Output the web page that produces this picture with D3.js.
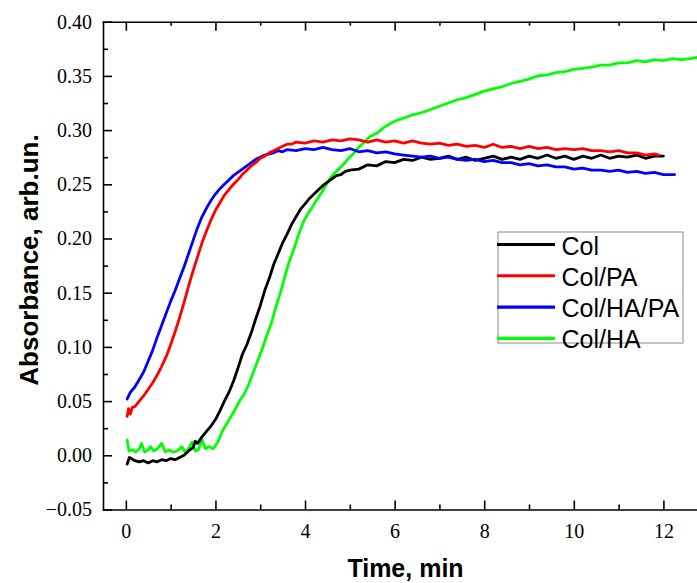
<!DOCTYPE html>
<html>
<head>
<meta charset="utf-8">
<script src="https://cdn.jsdelivr.net/npm/d3@7"></script>
<style>
  html, body { margin: 0; padding: 0; background: #fff; }
  svg { display: block; }
  .tick text { font-family: "Liberation Serif", "Times New Roman", serif; font-size: 20px; fill: #000; }
  .axis path, .axis line { stroke: #000; stroke-width: 1.6px; }
  .title { font-family: "Liberation Sans", Arial, sans-serif; font-weight: bold; font-size: 25px; fill: #000; }
  .legend text { font-family: "Liberation Sans", Arial, sans-serif; font-size: 25px; fill: #000; }
  .series { fill: none; stroke-width: 2.8px; stroke-linejoin: round; stroke-linecap: round; }
</style>
</head>
<body>
<div id="chart"></div>
<script>
// Absorbance vs time
const seriesNames = ["Col", "Col/PA", "Col/HA/PA", "Col/HA"];
const seriesColors = ["#000000", "#ff0000", "#0000ff", "#00ff00"];

const colTime = [0.03, 0.08, 0.12, 0.2, 0.3, 0.4, 0.5, 0.6, 0.7, 0.8, 0.9, 1.0, 1.1, 1.2, 1.3, 1.4, 1.5, 1.55, 1.6, 1.7, 1.8, 1.9,
  2.0, 2.1, 2.2, 2.3, 2.4, 2.5, 2.6, 2.7, 2.8, 2.9, 3.0, 3.1, 3.2, 3.3, 3.4, 3.5, 3.6, 3.7, 3.8, 3.9, 4.0, 4.1, 4.2, 4.3, 4.4,
  4.5, 4.6, 4.7, 4.8, 4.9, 5.0, 5.2, 5.4, 5.6, 5.8, 6.0, 6.2, 6.4, 6.6, 6.8, 7.0, 7.2, 7.4, 7.6, 7.8, 8.0, 8.2, 8.4, 8.6, 8.8,
  9.0, 9.2, 9.4, 9.6, 9.8, 10.0, 10.2, 10.4, 10.6, 10.8, 11.0, 11.2, 11.4, 11.6, 11.8, 12.0];
const colAbs = [-0.008, -0.002, -0.003, -0.005, -0.006, -0.005, -0.007, -0.005, -0.006, -0.004, -0.005, -0.003, -0.004, -0.002,
  0.000, 0.004, 0.007, 0.013, 0.011, 0.017, 0.022, 0.027, 0.033, 0.041, 0.050, 0.058, 0.068, 0.080, 0.093, 0.102, 0.113, 0.126,
  0.138, 0.152, 0.163, 0.176, 0.186, 0.196, 0.204, 0.213, 0.220, 0.227, 0.232, 0.237, 0.241, 0.245, 0.249, 0.252, 0.255, 0.258,
  0.259, 0.262, 0.263, 0.264, 0.268, 0.267, 0.271, 0.270, 0.273, 0.272, 0.275, 0.273, 0.274, 0.276, 0.273, 0.275, 0.272, 0.274,
  0.276, 0.273, 0.275, 0.273, 0.276, 0.274, 0.277, 0.274, 0.276, 0.273, 0.276, 0.274, 0.277, 0.274, 0.276, 0.275, 0.277, 0.274,
  0.276, 0.276];

const colPaTime = [0.03, 0.06, 0.1, 0.14, 0.2, 0.3, 0.4, 0.5, 0.6, 0.7, 0.8, 0.9, 1.0, 1.1, 1.2, 1.3, 1.4, 1.5, 1.6, 1.7, 1.8, 1.9,
  2.0, 2.1, 2.2, 2.3, 2.4, 2.5, 2.6, 2.7, 2.8, 2.9, 3.0, 3.1, 3.2, 3.3, 3.4, 3.5, 3.6, 3.7, 3.8, 4.0, 4.2, 4.4, 4.6, 4.8, 5.0,
  5.2, 5.4, 5.6, 5.8, 6.0, 6.2, 6.4, 6.6, 6.8, 7.0, 7.2, 7.4, 7.6, 7.8, 8.0, 8.2, 8.4, 8.6, 8.8, 9.0, 9.2, 9.4, 9.6, 9.8, 10.0,
  10.2, 10.4, 10.6, 10.8, 11.0, 11.2, 11.4, 11.6, 11.8, 11.9];
const colPaAbs = [0.036, 0.043, 0.038, 0.044, 0.045, 0.050, 0.055, 0.061, 0.067, 0.074, 0.082, 0.091, 0.102, 0.114, 0.127, 0.141,
  0.156, 0.170, 0.183, 0.196, 0.207, 0.217, 0.226, 0.233, 0.240, 0.245, 0.250, 0.254, 0.259, 0.263, 0.267, 0.270, 0.274, 0.276,
  0.279, 0.281, 0.283, 0.285, 0.287, 0.287, 0.289, 0.288, 0.290, 0.289, 0.291, 0.290, 0.292, 0.291, 0.289, 0.291, 0.289, 0.290,
  0.288, 0.290, 0.288, 0.287, 0.288, 0.286, 0.287, 0.285, 0.286, 0.284, 0.287, 0.284, 0.285, 0.283, 0.285, 0.283, 0.284, 0.282,
  0.283, 0.282, 0.283, 0.281, 0.281, 0.280, 0.281, 0.279, 0.279, 0.277, 0.278, 0.277];

const colHaPaTime = [0.03, 0.1, 0.2, 0.3, 0.4, 0.5, 0.6, 0.7, 0.8, 0.9, 1.0, 1.1, 1.2, 1.3, 1.4, 1.5, 1.6, 1.7, 1.8, 1.9, 2.0,
  2.1, 2.2, 2.3, 2.4, 2.5, 2.6, 2.7, 2.8, 2.9, 3.0, 3.1, 3.2, 3.3, 3.4, 3.5, 3.6, 3.8, 4.0, 4.2, 4.4, 4.6, 4.8, 5.0, 5.2, 5.4,
  5.6, 5.8, 6.0, 6.2, 6.4, 6.6, 6.8, 7.0, 7.2, 7.4, 7.6, 7.8, 8.0, 8.2, 8.4, 8.6, 8.8, 9.0, 9.2, 9.4, 9.6, 9.8, 10.0, 10.2,
  10.4, 10.6, 10.8, 11.0, 11.2, 11.4, 11.6, 11.8, 12.0, 12.25];
const colHaPaAbs = [0.052, 0.058, 0.063, 0.070, 0.077, 0.087, 0.097, 0.109, 0.120, 0.131, 0.142, 0.152, 0.163, 0.174, 0.186,
  0.198, 0.210, 0.220, 0.228, 0.235, 0.241, 0.246, 0.250, 0.254, 0.258, 0.261, 0.264, 0.267, 0.270, 0.273, 0.275, 0.277, 0.278,
  0.279, 0.281, 0.280, 0.282, 0.281, 0.283, 0.282, 0.284, 0.282, 0.281, 0.283, 0.280, 0.281, 0.279, 0.280, 0.278, 0.277, 0.276,
  0.275, 0.276, 0.274, 0.275, 0.273, 0.272, 0.273, 0.271, 0.272, 0.270, 0.270, 0.268, 0.269, 0.267, 0.268, 0.266, 0.266, 0.264,
  0.265, 0.263, 0.263, 0.262, 0.263, 0.261, 0.262, 0.260, 0.261, 0.259, 0.259];

const colHaTime = [0.03, 0.07, 0.15, 0.22, 0.3, 0.35, 0.42, 0.5, 0.55, 0.62, 0.7, 0.8, 0.88, 0.95, 1.05, 1.15, 1.25, 1.32, 1.4,
  1.48, 1.55, 1.62, 1.7, 1.78, 1.85, 1.95, 2.05, 2.15, 2.25, 2.35, 2.45, 2.55, 2.65, 2.75, 2.85, 2.95, 3.05, 3.15, 3.25, 3.35,
  3.45, 3.55, 3.65, 3.75, 3.85, 3.95, 4.05, 4.15, 4.25, 4.35, 4.45, 4.55, 4.65, 4.75, 4.85, 4.95, 5.05, 5.15, 5.25, 5.35, 5.45,
  5.6, 5.75, 5.9, 6.05, 6.2, 6.4, 6.6, 6.8, 7.0, 7.2, 7.4, 7.6, 7.8, 8.0, 8.2, 8.4, 8.6, 8.8, 9.0, 9.2, 9.4, 9.6, 9.8, 10.0,
  10.2, 10.4, 10.6, 10.8, 11.0, 11.2, 11.4, 11.6, 11.8, 12.0, 12.2, 12.4, 12.6, 12.75];
const colHaAbs = [0.014, 0.004, 0.005, 0.003, 0.006, 0.011, 0.003, 0.005, 0.008, 0.004, 0.006, 0.011, 0.003, 0.005, 0.003, 0.004,
  0.008, 0.003, 0.006, 0.012, 0.004, 0.005, 0.014, 0.006, 0.008, 0.006, 0.012, 0.022, 0.029, 0.036, 0.043, 0.051, 0.057, 0.066,
  0.077, 0.088, 0.099, 0.111, 0.122, 0.137, 0.150, 0.165, 0.179, 0.190, 0.203, 0.214, 0.222, 0.228, 0.235, 0.241, 0.248, 0.255,
  0.260, 0.264, 0.268, 0.273, 0.277, 0.282, 0.286, 0.290, 0.294, 0.297, 0.302, 0.306, 0.309, 0.311, 0.314, 0.316, 0.319, 0.322,
  0.325, 0.328, 0.330, 0.333, 0.336, 0.338, 0.340, 0.343, 0.345, 0.347, 0.350, 0.351, 0.353, 0.354, 0.356, 0.357, 0.358, 0.360,
  0.360, 0.362, 0.362, 0.364, 0.363, 0.365, 0.364, 0.366, 0.365, 0.366, 0.367];

const xMajorTicks = [0, 2, 4, 6, 8, 10, 12];
const xMinorTicks = [1, 3, 5, 7, 9, 11];
const yMajorTicks = [-0.05, 0, 0.05, 0.10, 0.15, 0.20, 0.25, 0.30, 0.35, 0.40];
const yMinorTicks = [-0.025, 0.025, 0.075, 0.125, 0.175, 0.225, 0.275, 0.325, 0.375];

const width = 697, height = 583;
const plot = { left: 103, top: 21.7, right: 697, bottom: 509.5 };

const svg = d3.select("#chart").append("svg")
  .attr("width", width)
  .attr("height", height);

const x = d3.scaleLinear().domain([-0.51, 12.75]).range([plot.left, plot.right]);
const y = d3.scaleLinear().domain([-0.05, 0.40]).range([plot.bottom, plot.top]);

// clip so lines stay inside the frame
svg.append("defs").append("clipPath").attr("id", "clip")
  .append("rect")
  .attr("x", plot.left).attr("y", plot.top)
  .attr("width", plot.right - plot.left).attr("height", plot.bottom - plot.top);

const seriesData = [
  d3.zip(colTime, colAbs),
  d3.zip(colPaTime, colPaAbs),
  d3.zip(colHaPaTime, colHaPaAbs),
  d3.zip(colHaTime, colHaAbs)
];

const line = d3.line().x(d => x(d[0])).y(d => y(d[1]));

// draw order: green under the others where they overlap
const drawOrder = [3, 0, 2, 1];
svg.append("g").attr("clip-path", "url(#clip)")
  .selectAll("path")
  .data(drawOrder)
  .join("path")
  .attr("class", "series")
  .attr("stroke", i => seriesColors[i])
  .attr("d", i => line(seriesData[i]));

// axes, ticks pointing inward
svg.append("g").attr("class", "axis")
  .attr("transform", `translate(0,${plot.bottom})`)
  .call(d3.axisBottom(x).tickValues(xMajorTicks).tickFormat(d3.format("d"))
    .tickSizeInner(-9).tickSizeOuter(0).tickPadding(14.5));
svg.append("g").attr("class", "axis")
  .attr("transform", `translate(0,${plot.bottom})`)
  .call(d3.axisBottom(x).tickValues(xMinorTicks).tickFormat("")
    .tickSizeInner(-5).tickSizeOuter(0))
  .select(".domain").remove();

svg.append("g").attr("class", "axis")
  .attr("transform", `translate(0,${plot.top})`)
  .call(d3.axisTop(x).tickValues(xMajorTicks).tickFormat("")
    .tickSizeInner(-9).tickSizeOuter(0));
svg.append("g").attr("class", "axis")
  .attr("transform", `translate(0,${plot.top})`)
  .call(d3.axisTop(x).tickValues(xMinorTicks).tickFormat("")
    .tickSizeInner(-4).tickSizeOuter(0))
  .select(".domain").remove();

svg.append("g").attr("class", "axis")
  .attr("transform", `translate(${plot.left},0)`)
  .call(d3.axisLeft(y).tickValues(yMajorTicks).tickFormat(d3.format(".2f"))
    .tickSizeInner(-9).tickSizeOuter(0).tickPadding(11));
svg.append("g").attr("class", "axis")
  .attr("transform", `translate(${plot.left},0)`)
  .call(d3.axisLeft(y).tickValues(yMinorTicks).tickFormat("")
    .tickSizeInner(-5).tickSizeOuter(0))
  .select(".domain").remove();

svg.selectAll(".axis path.domain").attr("stroke-linecap", "square");

// axis titles
svg.append("text").attr("class", "title")
  .attr("x", 405.5).attr("y", 577)
  .attr("text-anchor", "middle")
  .text("Time, min");

svg.append("text").attr("class", "title")
  .attr("transform", "translate(38,260) rotate(-90)")
  .attr("text-anchor", "middle")
  .style("font-size", "26px")
  .text("Absorbance, arb.un.");

// legend
const legend = svg.append("g").attr("class", "legend");
legend.append("rect")
  .attr("x", 498).attr("y", 232)
  .attr("width", 185).attr("height", 111)
  .attr("fill", "#fff")
  .attr("stroke", "#8c8c8c")
  .attr("stroke-width", 1);

const rowY = d3.scalePoint().domain(seriesNames).range([244.5, 338.3]);
const rows = legend.selectAll(".row")
  .data(seriesNames)
  .join("g")
  .attr("class", "row")
  .attr("transform", d => `translate(0,${rowY(d)})`);
rows.append("line")
  .attr("x1", 497).attr("x2", 555)
  .attr("stroke", (d, i) => seriesColors[i])
  .attr("stroke-width", 3.2);
rows.append("text")
  .attr("x", 561.5).attr("y", 10)
  .text(d => d);
</script>
</body>
</html>
